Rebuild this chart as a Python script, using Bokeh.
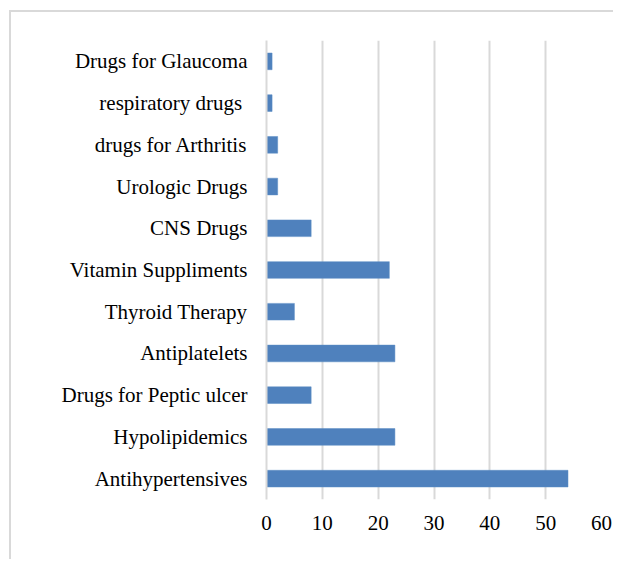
from bokeh.plotting import figure
from bokeh.models import FactorRange, Range1d, FixedTicker, ColumnDataSource
from bokeh.embed import file_html
from bokeh.resources import INLINE

categories = ["Antihypertensives", "Hypolipidemics", "Drugs for Peptic ulcer", "Antiplatelets",
              "Thyroid Therapy", "Vitamin Suppliments", "CNS Drugs", "Urologic Drugs",
              "drugs for Arthritis", "respiratory drugs ", "Drugs for Glaucoma"]
values = [54, 23, 8, 23, 5, 22, 8, 2, 2, 1, 1]
x_ticks = [0, 10, 20, 30, 40, 50, 60]

FONT = "Liberation Serif"

p = figure(width=604, height=549, output_backend="svg", toolbar_location=None,
           y_range=FactorRange(factors=categories, range_padding=0),
           x_range=Range1d(0, 60),
           min_border_left=255, min_border_right=14, min_border_top=28, min_border_bottom=62)

p.styles = {"border-top": "2px solid #d9d9d9", "border-left": "2px solid #d9d9d9",
            "margin-left": "9px", "margin-top": "10px"}

src = ColumnDataSource(dict(cat=categories, val=values))
p.hbar(y="cat", right="val", left=0, height=0.4, source=src,
       fill_color="#4f81bd", line_color="#5b8cc4", line_width=0.5)

p.outline_line_color = None
p.background_fill_color = "white"
p.border_fill_color = "white"

p.xaxis.ticker = FixedTicker(ticks=x_ticks)
p.xaxis.axis_line_color = None
p.xaxis.major_tick_line_color = None
p.xaxis.minor_tick_line_color = None
p.xaxis.major_label_text_font = FONT
p.xaxis.major_label_text_font_size = "21px"
p.xaxis.major_label_text_color = "#000000"
p.xaxis.major_label_standoff = 10

p.yaxis.axis_line_color = "#d9d9d9"
p.yaxis.axis_line_width = 2
p.yaxis.major_tick_line_color = None
p.yaxis.minor_tick_line_color = None
p.yaxis.major_label_text_font = FONT
p.yaxis.major_label_text_font_size = "21px"
p.yaxis.major_label_text_color = "#000000"
p.yaxis.major_label_standoff = 13

p.xgrid.grid_line_color = "#d9d9d9"
p.xgrid.grid_line_width = 2
p.ygrid.grid_line_color = None

open("out.html", "w").write(file_html(p, INLINE))
